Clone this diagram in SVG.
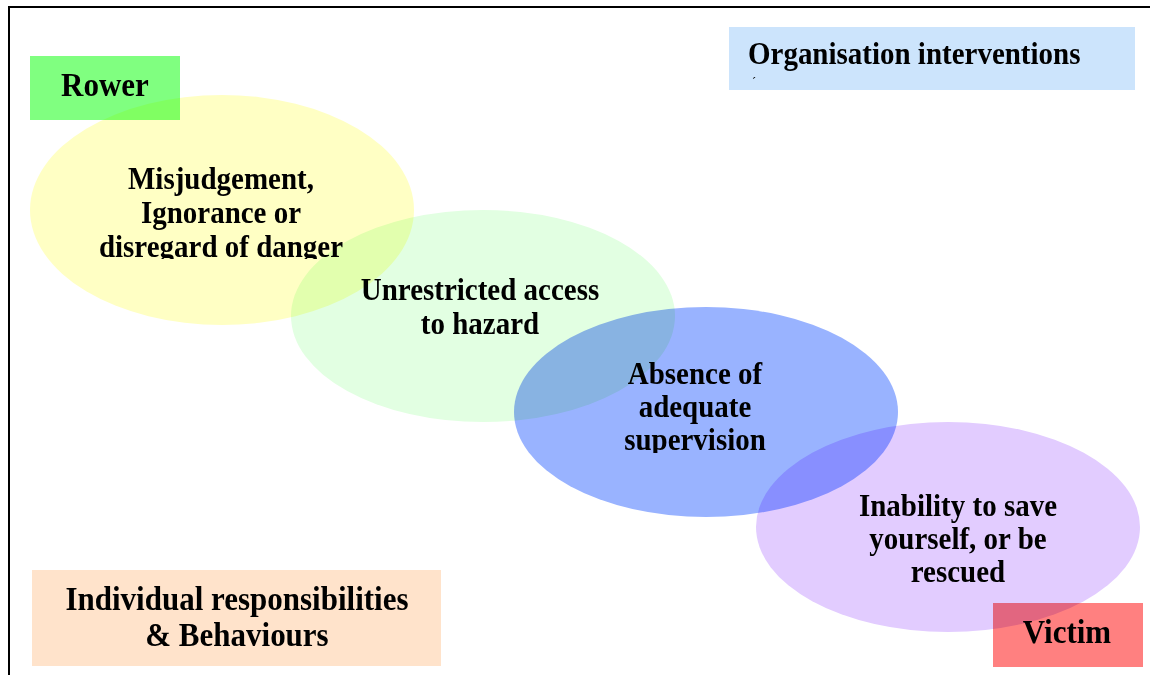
<svg xmlns="http://www.w3.org/2000/svg" width="1150" height="675" viewBox="0 0 1150 675">
<style>
  .lbl { font-family: "Liberation Serif", "Times New Roman", serif; font-weight: bold; fill: #000; transform-box: fill-box; transform-origin: 50% 75%; transform: scaleY(1.12); }
  .big { font-size: 31px; }
  .mid { font-size: 29px; }
  .shape { mix-blend-mode: multiply; }
</style>
<defs>
  <clipPath id="clipYellow"><rect x="30" y="150" width="390" height="109"/></clipPath>
  <clipPath id="clipBlue"><rect x="520" y="340" width="380" height="113"/></clipPath>
</defs>
<rect x="0" y="0" width="1150" height="675" fill="#ffffff"/>
<g id="frame" fill="none" stroke="#000" stroke-width="2">
  <line x1="8" y1="7" x2="1150" y2="7"/>
  <line x1="9" y1="6" x2="9" y2="675"/>
</g>
<g id="connectors"></g>
<g id="rower">
  <rect class="shape" x="30" y="56" width="150" height="64" fill="#80ff80"/>
  <text class="lbl big" x="105" y="96" text-anchor="middle">Rower</text>
</g>
<g id="organisation">
  <rect class="shape" x="729" y="27" width="406" height="63" fill="#cce4fc"/>
  <text class="lbl mid" x="748" y="64">Organisation interventions</text>
  <text x="752" y="86" font-family="Liberation Serif, serif" font-size="12">´</text>
</g>
<g id="individual">
  <rect class="shape" x="32" y="570" width="409" height="96" fill="#ffe3cb"/>
  <text class="lbl big" x="237" y="610" text-anchor="middle">Individual responsibilities</text>
  <text class="lbl big" x="237" y="646" text-anchor="middle">&amp; Behaviours</text>
</g>
<g id="victim">
  <rect class="shape" x="993" y="603" width="150" height="64" fill="#ff8080"/>
</g>
<g id="misjudgement">
  <ellipse class="shape" cx="222" cy="210" rx="192" ry="115" fill="#ffffc4"/>
</g>
<g id="access">
  <ellipse class="shape" cx="483" cy="316" rx="192" ry="106" fill="#e2ffe2"/>
</g>
<g id="supervision">
  <ellipse class="shape" cx="706" cy="412" rx="192" ry="105" fill="#99b3ff"/>
</g>
<g id="inability">
  <ellipse class="shape" cx="948" cy="527" rx="192" ry="105" fill="#e2ccff"/>
</g>
<g id="texts">
  <g clip-path="url(#clipYellow)">
    <text class="lbl mid" x="221" y="189" text-anchor="middle">Misjudgement,</text>
    <text class="lbl mid" x="221" y="223" text-anchor="middle">Ignorance or</text>
    <text class="lbl mid" x="221" y="257" text-anchor="middle">disregard of danger</text>
  </g>
  <text class="lbl mid" x="480" y="300" text-anchor="middle">Unrestricted access</text>
  <text class="lbl mid" x="480" y="334" text-anchor="middle">to hazard</text>
  <g clip-path="url(#clipBlue)">
    <text class="lbl mid" x="695" y="384" text-anchor="middle">Absence of</text>
    <text class="lbl mid" x="695" y="417" text-anchor="middle">adequate</text>
    <text class="lbl mid" x="695" y="450" text-anchor="middle">supervision</text>
  </g>
  <text class="lbl mid" x="958" y="516" text-anchor="middle">Inability to save</text>
  <text class="lbl mid" x="958" y="549" text-anchor="middle">yourself, or be</text>
  <text class="lbl mid" x="958" y="582" text-anchor="middle">rescued</text>
  <text class="lbl big" x="1067" y="643" text-anchor="middle">Victim</text>
</g>
</svg>
